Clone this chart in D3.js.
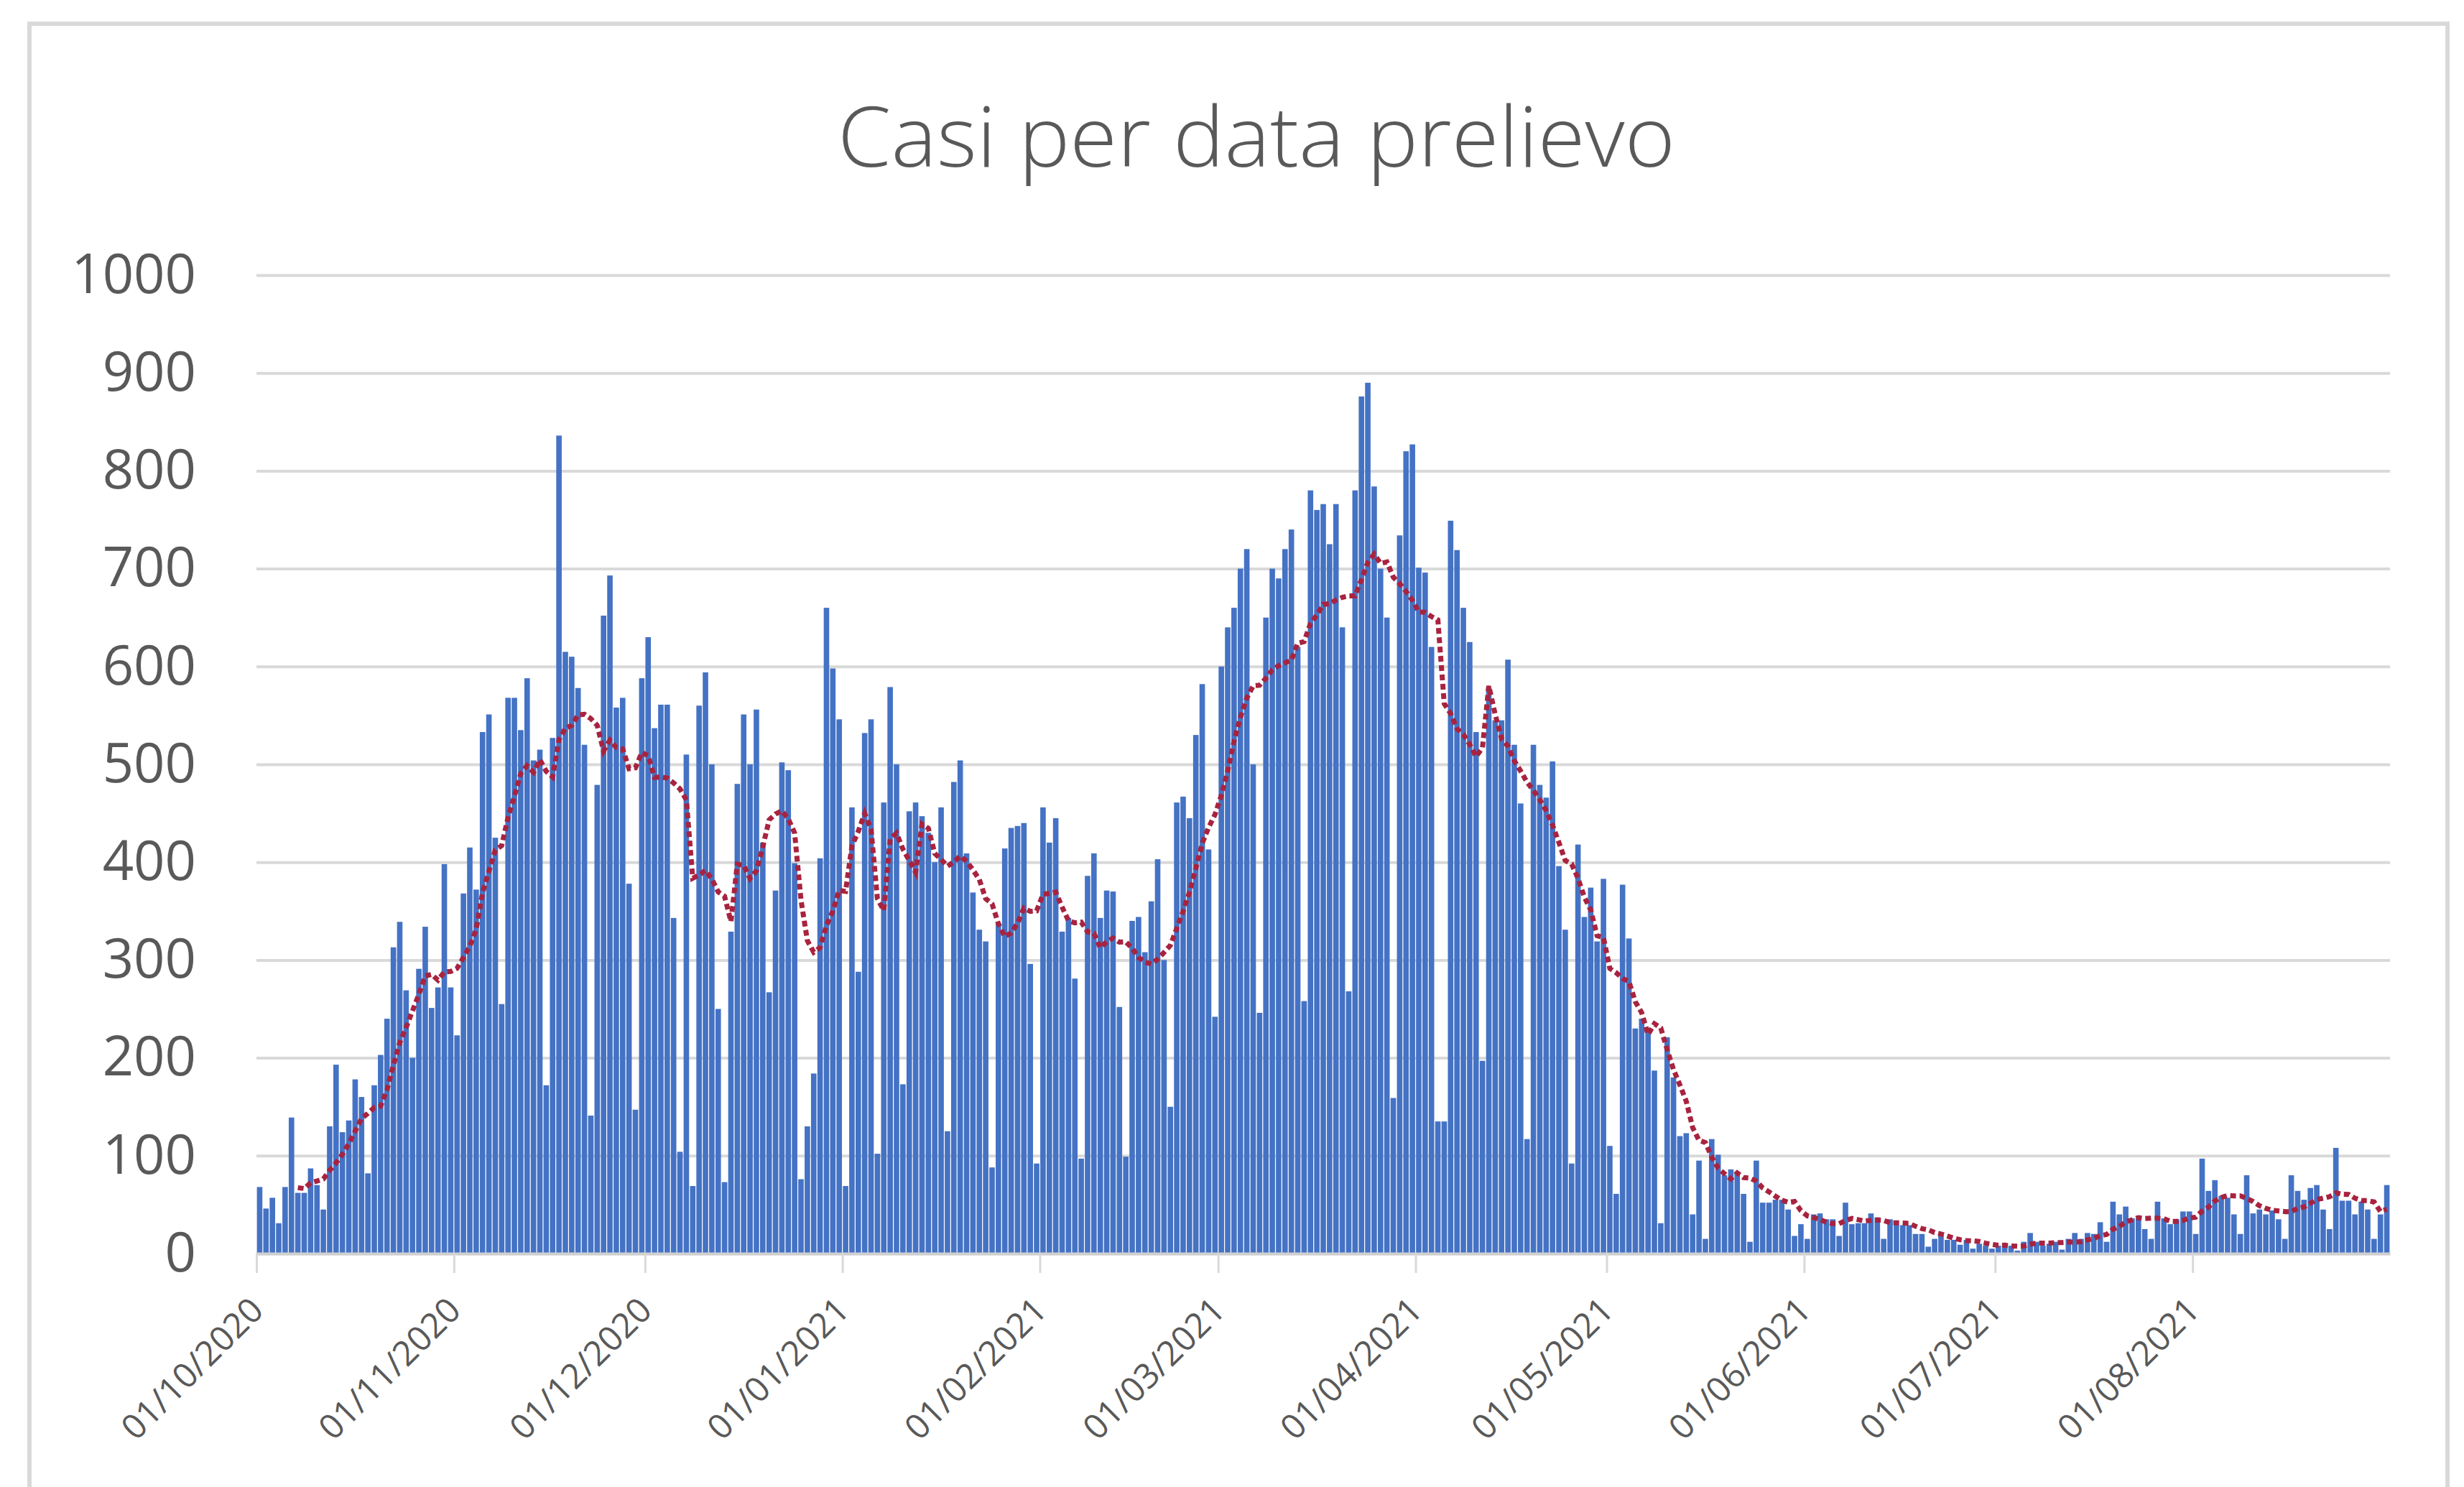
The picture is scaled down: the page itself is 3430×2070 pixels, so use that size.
<!DOCTYPE html>
<html lang="it"><head>
<meta charset="utf-8">
<title>Casi per data prelievo</title>
<script src="https://cdn.jsdelivr.net/npm/d3@7"></script>
<style>
  body { margin: 0; background: #fff; }
  svg { display: block; }
</style>
</head>
<body>
<script type="text/javascript">

// daily cases by sampling date, 01/10/2020 .. 31/08/2021
var oct = [68, 46, 57, 31, 68, 139, 62, 62, 87, 70, 45, 130, 193, 124, 136, 178, 160, 82, 172, 203,
           240, 313, 339, 269, 200, 291, 334, 251, 272, 398, 272];
var nov = [223, 368, 415, 372, 533, 551, 425, 255, 568, 568, 535, 588, 504, 515, 172, 527, 836, 615, 610, 578,
           520, 141, 479, 652, 693, 558, 568, 378, 147, 588];
var dec = [630, 537, 561, 561, 343, 104, 510, 69, 560, 594, 500, 250, 73, 329, 480, 551, 500, 556, 420, 267,
           371, 502, 494, 399, 76, 130, 184, 404, 660, 598, 546];
var jan = [69, 456, 288, 532, 546, 102, 461, 579, 500, 173, 452, 461, 447, 430, 400, 456, 125, 482, 504, 409,
           369, 331, 319, 88, 338, 414, 435, 437, 440, 296, 92];
var feb = [456, 420, 445, 329, 343, 281, 97, 386, 409, 343, 371, 370, 252, 99, 340, 344, 308, 360, 403, 300,
           150, 461, 467, 445, 530, 582, 413, 242];
var mar = [600, 640, 660, 700, 720, 500, 246, 650, 700, 690, 720, 740, 620, 258, 780, 760, 766, 725, 766, 640,
           268, 780, 876, 890, 784, 700, 650, 159, 734, 820, 827];
var apr = [701, 696, 620, 135, 135, 749, 719, 660, 625, 533, 197, 578, 545, 545, 607, 520, 460, 117, 520, 479,
           466, 503, 396, 331, 92, 418, 344, 374, 319, 383];
var may = [110, 61, 377, 322, 230, 240, 227, 187, 31, 221, 180, 120, 123, 40, 95, 15, 117, 101, 80, 86,
           83, 61, 12, 95, 52, 52, 55, 55, 45, 18, 30];
var jun = [15, 40, 41, 35, 35, 18, 52, 30, 31, 31, 41, 37, 15, 35, 30, 29, 29, 20, 20, 7,
           15, 20, 14, 14, 9, 14, 5, 10, 8, 5];
var jul = [8, 10, 8, 3, 12, 21, 12, 8, 10, 12, 4, 15, 21, 15, 21, 20, 32, 12, 53, 40,
           48, 36, 36, 25, 15, 53, 36, 30, 35, 43, 43];
var aug = [20, 97, 64, 75, 59, 57, 40, 20, 80, 41, 45, 40, 44, 35, 15, 80, 64, 55, 67, 70,
           45, 25, 108, 54, 54, 40, 53, 45, 15, 40, 70];

var xTickLabels = ["01/10/2020", "01/11/2020", "01/12/2020", "01/01/2021", "01/02/2021", "01/03/2021",
                   "01/04/2021", "01/05/2021", "01/06/2021", "01/07/2021", "01/08/2021"];
var yTickValues = [0, 100, 200, 300, 400, 500, 600, 700, 800, 900, 1000];
var maPeriod = 7;

var width = 3430;
var height = 2070;
var plotL = 357, plotR = 3327, plotB = 1745, plotT = 383;

var parseDay = d3.utcParse("%d/%m/%Y");
var start = parseDay("01/10/2020");
var end = parseDay("01/09/2021");

var values = [].concat(oct, nov, dec, jan, feb, mar, apr, may, jun, jul, aug);
var data = values.map(function(v, i) {
    return {date: d3.utcDay.offset(start, i), value: v};
});

// trailing moving average, like the Excel trendline
var ma = [];
for (var i = maPeriod - 1; i < data.length; i++) {
    var s = 0;
    for (var j = i - maPeriod + 1; j <= i; j++) s += data[j].value;
    ma.push({date: data[i].date, value: s / maPeriod});
}

var svg = d3.select("body").append("svg")
    .attr("width", width)
    .attr("height", height);

svg.append("rect")
    .attr("width", width).attr("height", height)
    .attr("fill", "#fff");

// chart area border
svg.append("rect")
    .attr("x", 41).attr("y", 33)
    .attr("width", 3366).attr("height", 2100)
    .attr("fill", "none")
    .attr("stroke", "#d9d9d9")
    .attr("stroke-width", 6);

svg.append("text")
    .attr("x", 1749)
    .attr("y", 232)
    .attr("text-anchor", "middle")
    .attr("font-family", "'Open Sans', 'Noto Sans', sans-serif")
    .attr("font-weight", 300)
    .attr("font-size", 116)
    .attr("fill", "#595959")
    .attr("textLength", 1166)
    .attr("lengthAdjust", "spacingAndGlyphs")
    .text("Casi per data prelievo");

var x = d3.scaleUtc().domain([start, end]).range([plotL, plotR]);
var y = d3.scaleLinear().domain([0, 1000]).range([plotB, plotT]);

// y axis + gridlines
var yAxis = svg.append("g")
    .attr("transform", "translate(" + plotL + ",0)")
    .call(d3.axisLeft(y)
        .tickValues(yTickValues)
        .tickSize(-(plotR - plotL))
        .tickPadding(84)
        .tickFormat(d3.format("d")));
yAxis.select(".domain").remove();
yAxis.selectAll("line")
    .attr("stroke", "#d9d9d9")
    .attr("stroke-width", 4);
yAxis.selectAll("text")
    .attr("font-family", "'Open Sans', sans-serif")
    .attr("font-size", 76)
    .attr("fill", "#595959");

// bars
var dayW = x(d3.utcDay.offset(start, 1)) - x(start);
var barW = dayW * 0.86;
svg.append("g")
    .selectAll("rect")
    .data(data)
    .enter()
    .append("rect")
    .attr("x", function(d) { return x(d.date) + (dayW - barW) / 2; })
    .attr("y", function(d) { return y(d.value); })
    .attr("width", barW)
    .attr("height", function(d) { return y(0) - y(d.value); })
    .attr("fill", "#4472c4");

// x axis
var xAxis = svg.append("g")
    .attr("transform", "translate(0," + plotB + ")")
    .call(d3.axisBottom(x)
        .tickValues(xTickLabels.map(parseDay))
        .tickSize(27)
        .tickSizeOuter(0)
        .tickFormat(function(d, i) { return xTickLabels[i]; }));
xAxis.select(".domain")
    .attr("stroke", "#d0d0d0")
    .attr("stroke-width", 4);
xAxis.selectAll("line")
    .attr("stroke", "#d9d9d9")
    .attr("stroke-width", 3);
xAxis.selectAll("text")
    .attr("font-family", "'Open Sans', sans-serif")
    .attr("font-size", 48)
    .attr("fill", "#595959")
    .attr("text-anchor", "end")
    .attr("dy", "0.35em")
    .attr("transform", "translate(0,70) rotate(-45)")
    .attr("y", 0)
    .attr("x", 0);

// moving average trendline
var line = d3.line()
    .x(function(d) { return x(d.date) + dayW / 2; })
    .y(function(d) { return y(d.value); });

svg.append("path")
    .datum(ma)
    .attr("d", line)
    .attr("fill", "none")
    .attr("stroke", "#a8233f")
    .attr("stroke-width", 7)
    .attr("stroke-dasharray", "8 5");

</script>
</body></html>
